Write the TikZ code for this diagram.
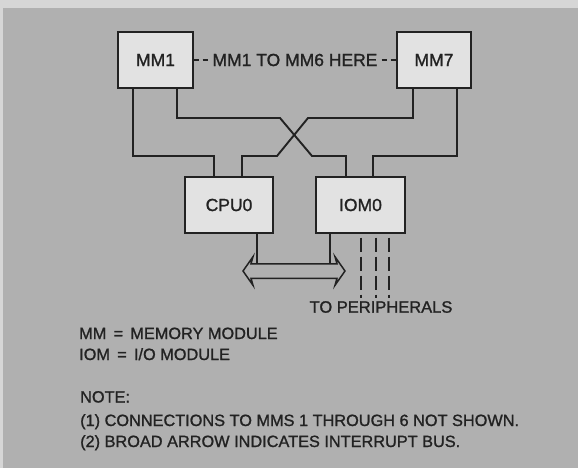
\documentclass[tikz,border=0pt]{standalone}
\usepackage{fontspec}
\setmainfont{Liberation Sans}[FakeBold=1.2]
\usetikzlibrary{shapes.arrows}
\definecolor{paper}{RGB}{176,176,176}
\definecolor{rim}{RGB}{214,214,214}
\definecolor{boxfill}{RGB}{226,226,226}
\definecolor{ink}{RGB}{34,34,34}
\begin{document}
\begin{tikzpicture}[x=1pt, y=-1pt]
        \tikzset{module/.style={draw=ink, line width=1.2pt, fill=boxfill, text=ink,
                inner sep=0pt, minimum height=56pt, font=\fontsize{17.5}{20}\selectfont}}
        \tikzset{wire/.style={draw=ink, line width=1.9pt}}
        \tikzset{legend/.style={anchor=base west, text=ink, inner sep=0pt,
                font=\fontsize{16.3}{19}\selectfont}}
        \fill[rim] (0,0) rectangle (578,468);
        \fill[paper] (3,8) rectangle (578,468);
        \useasboundingbox (0,0) rectangle (578,468);
        \node[module, minimum width=75pt] (mm1) at (155.5,60) {MM1};
        \node[module, minimum width=74pt] (mm7) at (434,60) {MM7};
        \node[module, minimum width=88pt] (cpu) at (229,205) {CPU0};
        \node[module, minimum width=89pt] (iom) at (360.5,205) {IOM0};
        \node[text=ink, inner sep=4pt, font=\fontsize{17.5}{20}\selectfont] (here) at (295,60) {MM1 TO MM6 HERE};
        \draw[ink, line width=1.6pt, dash pattern=on 5pt off 4pt] (mm1.east) -- (here.west);
        \draw[ink, line width=1.6pt, dash pattern=on 5pt off 4pt] (here.east) -- (mm7.west);
        \draw[wire] (133,0 |- mm1.south) |- (214,156) -- (214,0 |- cpu.north);
        \draw[wire] (177,0 |- mm1.south) |- (280,118) -- (312,156) -| (346,0 |- iom.north);
        \draw[wire] (413,0 |- mm7.south) |- (308,118) -- (277,156) -| (242,0 |- cpu.north);
        \draw[wire] (457,0 |- mm7.south) |- (373,156) -- (373,0 |- iom.north);
        \node[double arrow, draw=ink, line width=1.5pt, fill=paper, inner sep=6.5pt,
                minimum height=102pt, minimum width=27pt, double arrow head extend=7pt,
                double arrow tip angle=110, double arrow head indent=2pt] (bus) at (294,271) {};
        \draw[wire] (257,0 |- cpu.south) -- (257,0 |- bus.north);
        \draw[wire] (330,0 |- iom.south) -- (330,0 |- bus.north);
        \node[text=ink, inner sep=3pt, font=\fontsize{16.5}{19}\selectfont] (periph) at (381,307) {TO PERIPHERALS};
        \foreach \px in {361,376,389}
                \draw[ink, line width=1.6pt, dash pattern=on 14pt off 5pt] (\px,0 |- iom.south) ++(0,4) -- (\px,0 |- periph.north);
        \node[legend] (mm) at (79,339) {MM \,=\, MEMORY MODULE};
        \node[legend] (io) at (79,360) {IOM \,=\, I/O MODULE};
        \node[legend] (note) at (80,402.5) {NOTE:};
        \node[legend] (n1) at (80,426) {(1) CONNECTIONS TO MMS 1 THROUGH 6 NOT SHOWN.};
        \node[legend] (n2) at (80,447) {(2) BROAD ARROW INDICATES INTERRUPT BUS.};
\end{tikzpicture}
\end{document}
